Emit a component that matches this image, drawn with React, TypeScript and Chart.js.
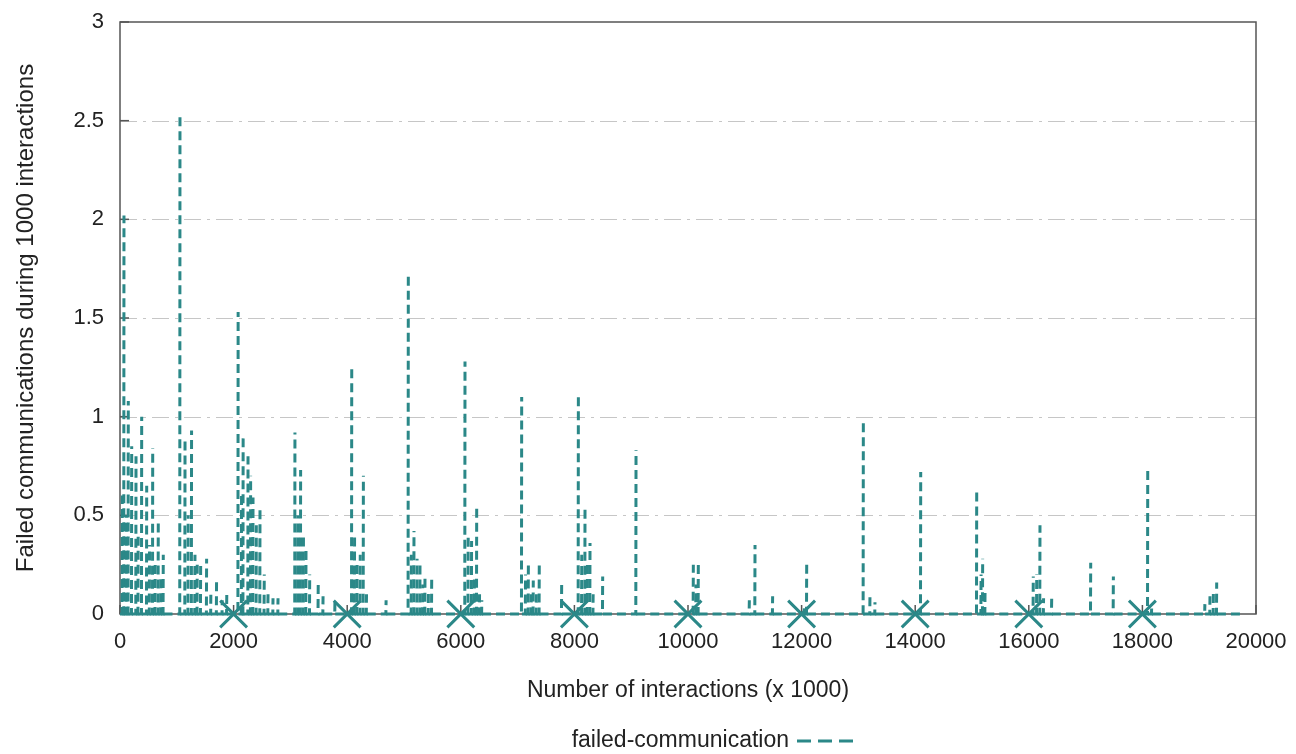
import React, { useEffect, useRef } from 'react';
import { Chart, registerables } from 'chart.js';

Chart.register(...registerables);

const TEAL = '#2b8888';
const TEXT = '#222222';
const FRAME = '#555555';
const FONT = '"Liberation Sans", Arial, sans-serif';

const seriesLabel = 'failed-communication';
const xTitle = 'Number of interactions (x 1000)';
const yTitle = 'Failed communications during 1000 interactions';

// x positions (interactions x 1000) of the non-zero samples, and their values
const spikeX = [
  40, 70, 110, 146, 206, 282, 320, 382, 470, 520, 576, 620, 674, 720, 762,
  1056, 1145, 1200, 1260, 1320, 1360, 1420, 1525, 1600, 1700, 1800, 1880,
  2080, 2140, 2168, 2254, 2300, 2342, 2400, 2465, 2540, 2606, 2694, 2782,
  3080, 3130, 3180, 3230, 3275, 3340, 3490, 3575, 3785,
  4080, 4130, 4175, 4230, 4285, 4340, 4685,
  5076, 5130, 5176, 5230, 5282, 5330, 5370, 5430, 5488,
  6074, 6130, 6190, 6240, 6280, 6330, 6370,
  7072, 7140, 7190, 7240, 7276, 7330, 7382, 7776,
  8070, 8130, 8187, 8230, 8275, 8330, 8498,
  9085,
  10094, 10140, 10182,
  11080, 11180, 11490,
  12050, 12090,
  13087, 13204, 13292,
  14097,
  15083, 15160, 15188, 15230,
  16079, 16140, 16197, 16260, 16403,
  17090, 17489,
  18094, 18164,
  19100, 19190, 19250, 19308,
];
const spikeY = [
  0.6, 2.02, 0.5, 1.08, 0.85, 0.8, 0.4, 1.0, 0.65, 0.35, 0.84, 0.25, 0.47, 0.2, 0.3,
  2.53, 0.9, 0.5, 0.93, 0.3, 0.27, 0.25, 0.28, 0.12, 0.17, 0.07, 0.1,
  1.53, 0.6, 0.89, 0.8, 0.7, 0.59, 0.45, 0.55, 0.2, 0.1, 0.08, 0.08,
  0.92, 0.5, 0.73, 0.4, 0.34, 0.2, 0.15, 0.09, 0.08,
  1.26, 0.4, 0.27, 0.3, 0.7, 0.1, 0.07,
  1.73, 0.3, 0.42, 0.28, 0.27, 0.15, 0.2, 0.12, 0.19,
  1.28, 0.4, 0.37, 0.2, 0.55, 0.1, 0.07,
  1.1, 0.2, 0.26, 0.1, 0.17, 0.1, 0.27, 0.16,
  1.1, 0.3, 0.55, 0.25, 0.36, 0.1, 0.19,
  0.83,
  0.25, 0.15, 0.27,
  0.07, 0.35, 0.09,
  0.05, 0.26,
  0.98, 0.1, 0.06,
  0.72,
  0.63, 0.2, 0.28, 0.12,
  0.19, 0.2, 0.45, 0.08, 0.08,
  0.26, 0.19,
  0.74, 0.05,
  0.05, 0.09, 0.12, 0.16,
];
const seriesStart = 0;
const seriesEnd = 19750;

const markerX = [2000, 4000, 6000, 8000, 10000, 12000, 14000, 16000, 18000];

const xTickLabels = ['0', '2000', '4000', '6000', '8000', '10000', '12000', '14000', '16000', '18000', '20000'];
const yTickLabels = ['0', '0.5', '1', '1.5', '2', '2.5', '3'];

const framePlugin = {
  id: 'gnuplotFrame',
  beforeDatasetsDraw(chart: any) {
    const { ctx, chartArea, scales } = chart;
    const { left, right, top, bottom } = chartArea;
    const xs = scales.x;
    const ys = scales.y;
    ctx.save();
    ctx.strokeStyle = '#c6c6c6';
    ctx.lineWidth = 1;
    ctx.setLineDash([17, 6, 3, 6]);
    ys.ticks.forEach((t: any) => {
      if (t.value <= ys.min || t.value >= ys.max) return;
      const py = Math.round(ys.getPixelForValue(t.value)) + 0.5;
      ctx.beginPath();
      ctx.moveTo(left, py);
      ctx.lineTo(right, py);
      ctx.stroke();
    });
    ctx.setLineDash([]);
    ctx.strokeStyle = FRAME;
    ctx.lineWidth = 1.5;
    ctx.strokeRect(left, top, right - left, bottom - top);
    ys.ticks.forEach((t: any) => {
      const py = ys.getPixelForValue(t.value);
      ctx.beginPath();
      ctx.moveTo(left, py);
      ctx.lineTo(left + 9, py);
      ctx.stroke();
    });
    xs.ticks.forEach((t: any) => {
      const px = xs.getPixelForValue(t.value);
      ctx.beginPath();
      ctx.moveTo(px, bottom);
      ctx.lineTo(px, bottom - 9);
      ctx.stroke();
    });
    ctx.restore();
  },
  afterDraw(chart: any) {
    const { ctx } = chart;
    ctx.save();
    ctx.font = `23px ${FONT}`;
    ctx.fillStyle = TEXT;
    ctx.textAlign = 'right';
    ctx.textBaseline = 'middle';
    ctx.fillText(seriesLabel, 789, 741);
    ctx.strokeStyle = TEAL;
    ctx.lineWidth = 3;
    ctx.setLineDash([14, 7]);
    ctx.beginPath();
    ctx.moveTo(797, 741);
    ctx.lineTo(853, 741);
    ctx.stroke();
    ctx.restore();
  },
};

export default function App() {
  const canvasRef = useRef<HTMLCanvasElement | null>(null);

  useEffect(() => {
    document.body.style.margin = '0';
    const canvas = canvasRef.current;
    if (!canvas) return;

    const lineData: { x: number; y: number }[] = [{ x: seriesStart, y: 0 }];
    spikeX.forEach((x, i) => {
      lineData.push({ x: x - 4, y: 0 }, { x, y: spikeY[i] }, { x: x + 4, y: 0 });
    });
    lineData.push({ x: seriesEnd, y: 0 });

    const markerData = markerX.map((x) => ({ x, y: 0 }));

    const chart = new Chart(canvas, {
      type: 'scatter',
      data: {
        datasets: [
          {
            label: seriesLabel,
            data: lineData,
            showLine: true,
            borderColor: TEAL,
            backgroundColor: TEAL,
            borderWidth: 3,
            borderDash: [9, 5],
            pointRadius: 0,
            pointHoverRadius: 0,
            tension: 0,
            fill: false,
            clip: false,
            segment: {
              // the falling edge retraces the rising one; keep it from filling the dash gaps
              borderColor: (c: any) => (c.p1.parsed.y < c.p0.parsed.y ? 'rgba(0,0,0,0)' : undefined),
            },
          } as any,
          {
            label: 'markers',
            data: markerData,
            showLine: false,
            pointStyle: 'crossRot',
            pointRadius: 19,
            pointHoverRadius: 19,
            borderColor: TEAL,
            backgroundColor: TEAL,
            pointBorderWidth: 3,
            borderWidth: 3,
            clip: false,
          } as any,
        ],
      },
      options: {
        animation: false,
        responsive: false,
        events: [],
        layout: { padding: { top: 19, right: 40, bottom: 0, left: 0 } },
        plugins: {
          legend: { display: false },
          tooltip: { enabled: false },
        },
        scales: {
          x: {
            type: 'linear',
            min: 0,
            max: 20000,
            grid: { display: false, drawTicks: false },
            border: { display: false },
            ticks: {
              stepSize: 2000,
              padding: 15,
              color: TEXT,
              font: { family: FONT, size: 22 },
              maxRotation: 0,
              autoSkip: false,
              callback: (_v: any, i: number) => xTickLabels[i] ?? '',
            },
            title: {
              display: true,
              text: xTitle,
              color: TEXT,
              font: { family: FONT, size: 23 },
              padding: { top: 0, bottom: 50 },
            },
            afterFit: (s: any) => {
              s.height = 140;
              s.paddingLeft = 10;
              s.paddingRight = 32;
            },
          },
          y: {
            type: 'linear',
            min: 0,
            max: 3,
            grid: { display: false, drawTicks: false },
            border: { display: false },
            ticks: {
              stepSize: 0.5,
              padding: 16,
              color: TEXT,
              font: { family: FONT, size: 22 },
              autoSkip: false,
              callback: (_v: any, i: number) => yTickLabels[i] ?? '',
            },
            title: {
              display: true,
              text: yTitle,
              color: TEXT,
              font: { family: FONT, size: 24 },
              padding: { top: 12, bottom: 0 },
            },
            afterFit: (s: any) => {
              s.width = 120;
              s.paddingTop = 12;
              s.paddingBottom = 12;
            },
          },
        },
      },
      plugins: [framePlugin],
    });

    return () => {
      chart.destroy();
    };
  }, []);

  return (
    <div style={{ width: 1296, height: 754 }}>
      <canvas ref={canvasRef} width={1296} height={754} style={{ display: 'block' }} />
    </div>
  );
}
